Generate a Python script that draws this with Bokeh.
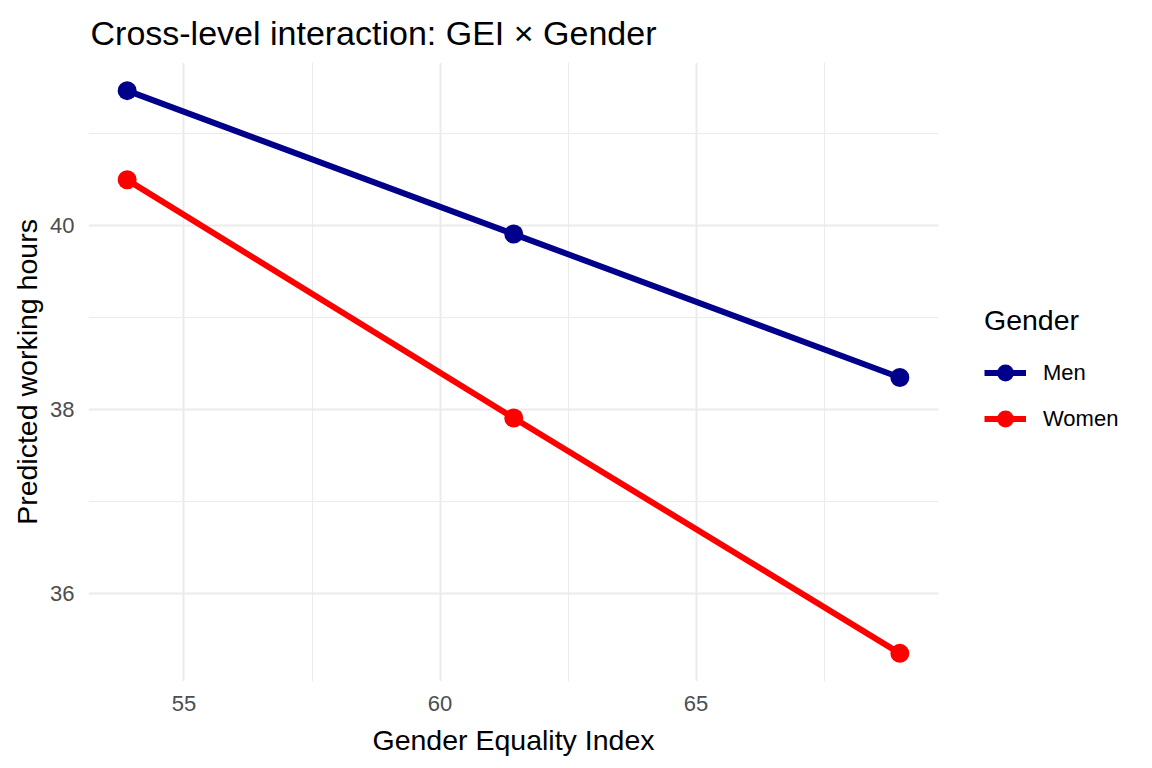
from bokeh.plotting import figure
from bokeh.models import Range1d, FixedTicker, Legend
from bokeh.embed import file_html
from bokeh.resources import INLINE

# Data
gei = [53.89, 61.44, 68.98]
men = [41.47, 39.91, 38.35]
women = [40.50, 37.91, 35.35]
x_ticks = [55, 60, 65]
y_ticks = [36, 38, 40]

FONT = "Liberation Sans"

p = figure(frame_width=850, frame_height=619, output_backend="svg", toolbar_location=None,
           x_range=Range1d(53.135, 69.735), y_range=Range1d(35.044, 41.776),
           min_border_left=88, min_border_right=212, min_border_top=62, min_border_bottom=85,
           title="Cross-level interaction: GEI × Gender")
p.outline_line_color = None
p.background_fill_color = "white"
p.border_fill_color = "white"

p.title.text_font = FONT
p.title.text_font_size = "34px"
p.title.text_font_style = "normal"
p.title.text_color = "black"
p.title.offset = 2
p.title.standoff = 22

p.xaxis.ticker = FixedTicker(ticks=x_ticks, minor_ticks=[52.5, 57.5, 62.5, 67.5])
p.yaxis.ticker = FixedTicker(ticks=y_ticks, minor_ticks=[35, 37, 39, 41])
for ax in (p.xaxis, p.yaxis):
    ax.axis_line_color = None
    ax.major_tick_line_color = None
    ax.minor_tick_line_color = None
    ax.major_tick_out = 0
    ax.minor_tick_out = 0
    ax.major_label_text_font = FONT
    ax.major_label_text_font_size = "22px"
    ax.major_label_text_color = "#4D4D4D"
    ax.axis_label_text_font = FONT
    ax.axis_label_text_font_size = "28.5px"
    ax.axis_label_text_font_style = "normal"
    ax.axis_label_text_color = "black"
p.xaxis.major_label_standoff = 14
p.yaxis.major_label_standoff = 14
p.xaxis.axis_label = "Gender Equality Index"
p.yaxis.axis_label = "Predicted working hours"
p.xaxis.axis_label_standoff = 10
p.yaxis.axis_label_standoff = 4

for g in (p.xgrid, p.ygrid):
    g.grid_line_color = "#EBEBEB"
    g.grid_line_width = 2
    g.minor_grid_line_color = "#EBEBEB"
    g.minor_grid_line_width = 1

navy = "#00008B"
red = "#FF0000"
l1 = p.line(gei, men, line_color=navy, line_width=6)
s1 = p.scatter(gei, men, size=19, fill_color=navy, line_color=None)
l2 = p.line(gei, women, line_color=red, line_width=6)
s2 = p.scatter(gei, women, size=19, fill_color=red, line_color=None)

legend = Legend(items=[("Men", [l1, s1]), ("Women", [l2, s2])],
                location="center_left", title="Gender")
legend.title_text_font = FONT
legend.title_text_font_size = "28.5px"
legend.title_text_font_style = "normal"
legend.title_text_color = "black"
legend.title_standoff = 14
legend.label_text_font = FONT
legend.label_text_font_size = "22px"
legend.label_text_color = "black"
legend.glyph_width = 42
legend.glyph_height = 44
legend.label_height = 44
legend.spacing = 2
legend.label_standoff = 17
legend.border_line_color = None
legend.background_fill_alpha = 0
legend.margin = 46
legend.padding = 6
p.add_layout(legend, "right")

open("out.html", "w").write(file_html(p, INLINE))
